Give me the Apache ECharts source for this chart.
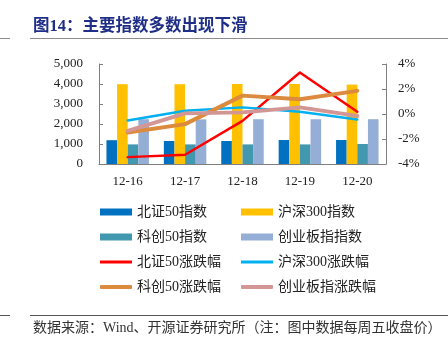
<!DOCTYPE html>
<html>
<head>
<meta charset="utf-8">
<script src="https://cdn.jsdelivr.net/npm/echarts@6/dist/echarts.min.js"></script>
<style>
  html, body { margin: 0; padding: 0; background: #fff; }
  #chart { width: 448px; height: 348px; }
</style>
</head>
<body>
<div id="chart"></div>
<script>
// Weekly close (Friday) of the four indices and their weekly change
const categories = ['12-16', '12-17', '12-18', '12-19', '12-20'];

const bz50Index   = [1190, 1150, 1150, 1200, 1200];
const hs300Index  = [3990, 3990, 4000, 4000, 3970];
const kc50Index   = [980, 980, 980, 980, 1000];
const cybIndex    = [2240, 2230, 2240, 2240, 2240];

const bz50Chg   = [-3.45, -3.26, -0.55, 3.32, 0.18];
const hs300Chg  = [-0.52, 0.26, 0.53, 0.18, -0.44];
const kc50Chg   = [-1.48, -0.81, 1.47, 1.18, 1.85];
const cybChg    = [-1.35, 0.05, 0.13, 0.53, -0.15];

const leftTicks = { min: 0, max: 5000, interval: 1000 };
const rightTicks = { min: -4, max: 4, interval: 2 };

const serif = '"Liberation Serif", "Times New Roman", "Noto Sans CJK SC", serif';
const cjk = '"Liberation Serif", "Noto Sans CJK SC", serif';
const axisGrey = '#7f7f7f';

const barSeries = [
  { name: '北证50指数', data: bz50Index, color: '#0070C0' },
  { name: '沪深300指数', data: hs300Index, color: '#FFC000' },
  { name: '科创50指数', data: kc50Index, color: '#4198AF' },
  { name: '创业板指指数', data: cybIndex, color: '#95AED6' }
];
const lineSeries = [
  { name: '北证50涨跌幅', data: bz50Chg, color: '#FF0000', width: 2.5 },
  { name: '沪深300涨跌幅', data: hs300Chg, color: '#00B0F0', width: 2.5 },
  { name: '科创50涨跌幅', data: kc50Chg, color: '#DB8A3E', width: 4 },
  { name: '创业板指涨跌幅', data: cybChg, color: '#D29795', width: 4 }
];

const series = [];
barSeries.forEach(s => series.push({
  name: s.name, type: 'bar', yAxisIndex: 0, data: s.data,
  barGap: '0%', barCategoryGap: '26%',
  itemStyle: { color: s.color }
}));
lineSeries.forEach(s => series.push({
  name: s.name, type: 'line', yAxisIndex: 1, data: s.data,
  symbol: 'none', z: 5,
  lineStyle: { color: s.color, width: s.width, cap: 'round', join: 'round' },
  itemStyle: { color: s.color }
}));

// Legend: two columns, four rows
const colX = [100, 241];
const rowY = [212, 237, 262, 287];
const legendItems = [
  [barSeries[0], 0, 0, 'rect', 7], [barSeries[1], 1, 0, 'rect', 7],
  [barSeries[2], 0, 1, 'rect', 7], [barSeries[3], 1, 1, 'rect', 7],
  [lineSeries[0], 0, 2, 'rect', 3], [lineSeries[1], 1, 2, 'rect', 3],
  [lineSeries[2], 0, 3, 'roundRect', 4], [lineSeries[3], 1, 3, 'roundRect', 4]
];
const legends = legendItems.map(([s, c, r, icon, h]) => ({
  left: colX[c], top: rowY[r] - 8, padding: 0,
  itemWidth: 32, itemHeight: h, itemGap: 0,
  data: [{ name: s.name, icon: icon, itemStyle: { color: s.color } }],
  textStyle: { fontFamily: cjk, fontSize: 14, color: '#222', padding: [0, 0, 0, 0], lineHeight: 16 },
  selectedMode: false
}));

const chart = echarts.init(document.getElementById('chart'), null, { renderer: 'canvas' });
chart.setOption({
  animation: false,
  backgroundColor: '#fff',
  title: [
    {
      text: '图14：主要指数多数出现下滑', left: 33, top: 18, padding: 0,
      textStyle: { fontFamily: cjk, fontSize: 16.5, fontWeight: 'bold', color: '#1F2E86' }
    },
    {
      text: '数据来源：Wind、开源证券研究所（注：图中数据每周五收盘价）', left: 33, top: 321, padding: 0,
      textStyle: { fontFamily: cjk, fontSize: 14, fontWeight: 'normal', color: '#333' }
    }
  ],
  graphic: [
    { type: 'line', shape: { x1: 0, y1: 38.5, x2: 10, y2: 38.5 }, style: { stroke: '#8c8c8c', lineWidth: 1 } },
    { type: 'line', shape: { x1: 30, y1: 38.5, x2: 448, y2: 38.5 }, style: { stroke: '#8c8c8c', lineWidth: 1 } },
    { type: 'line', shape: { x1: 0, y1: 315.5, x2: 10, y2: 315.5 }, style: { stroke: '#555', lineWidth: 1 } },
    { type: 'line', shape: { x1: 30, y1: 315.5, x2: 448, y2: 315.5 }, style: { stroke: '#555', lineWidth: 1 } }
  ],
  legend: legends,
  grid: { left: 99, right: 62, top: 64, bottom: 184, containLabel: false },
  xAxis: {
    type: 'category', data: categories,
    axisLine: { lineStyle: { color: axisGrey, width: 1 } },
    axisTick: { inside: true, length: 4, lineStyle: { color: axisGrey } },
    axisLabel: { fontFamily: serif, fontSize: 13, color: '#222', margin: 11 }
  },
  yAxis: [
    {
      type: 'value', position: 'left', ...leftTicks,
      splitLine: { show: false },
      axisLine: { show: true, lineStyle: { color: axisGrey } },
      axisTick: { show: true, inside: true, length: 4, lineStyle: { color: axisGrey } },
      axisLabel: {
        fontFamily: serif, fontSize: 13, color: '#222', margin: 16,
        formatter: v => v.toLocaleString('en-US')
      }
    },
    {
      type: 'value', position: 'right', ...rightTicks,
      splitLine: { show: false },
      axisLine: { show: true, lineStyle: { color: axisGrey } },
      axisTick: { show: true, inside: true, length: 4, lineStyle: { color: axisGrey } },
      axisLabel: { fontFamily: serif, fontSize: 13, color: '#222', margin: 12, formatter: '{value}%' }
    }
  ],
  series: series
});
</script>
</body>
</html>
